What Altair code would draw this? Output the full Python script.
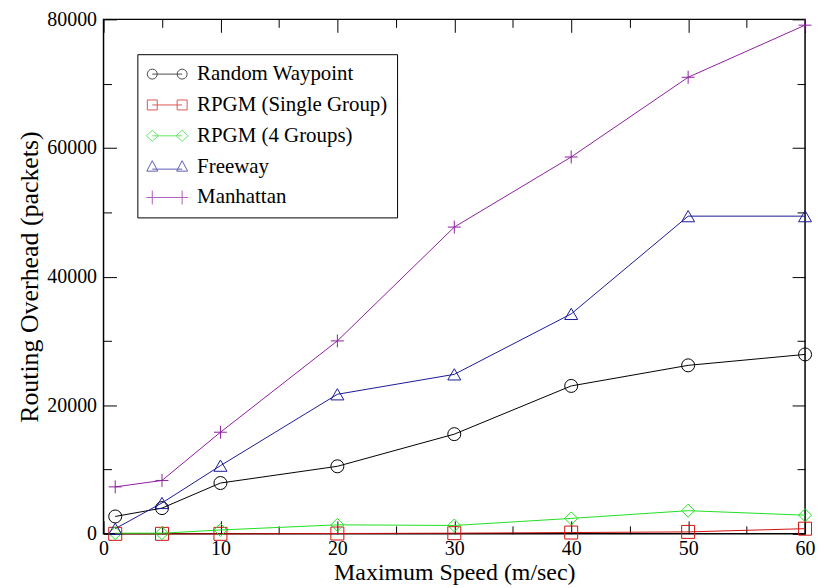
import altair as alt
import pandas as pd

# ---- data ----
speeds = [1, 5, 10, 20, 30, 40, 50, 60]
series_names = ["Random Waypoint", "RPGM (Single Group)", "RPGM (4 Groups)", "Freeway", "Manhattan"]
random_waypoint = [2700, 4000, 7900, 10500, 15500, 23000, 26200, 27900]
rpgm_single = [0, 0, 0, 50, 100, 200, 300, 800]
rpgm_four = [100, 100, 600, 1400, 1300, 2400, 3600, 2900]
freeway = [800, 4800, 10600, 21700, 24800, 34200, 49400, 49400]
manhattan = [7300, 8300, 15800, 30000, 47700, 58600, 71000, 79100]

x_ticks_major = [0, 10, 20, 30, 40, 50, 60]
x_ticks_minor = [5, 15, 25, 35, 45, 55]
y_ticks_major = [0, 20000, 40000, 60000, 80000]
y_ticks_minor = [10000, 30000, 50000, 70000]

colors = ["#000000", "#d01010", "#20e020", "#1a1a96", "#8e1ea0"]
marker_shapes = ["circle", "square", "diamond", "triangle-up", "M-1,0L1,0M0,-1L0,1"]
legend_shapes = [
    "M-1.5,0L1.5,0M-2,0A0.5,0.5,0,1,1,-1,0A0.5,0.5,0,1,1,-2,0M1,0A0.5,0.5,0,1,1,2,0A0.5,0.5,0,1,1,1,0",
    "M-1.5,0L1.5,0M-2,-0.5L-1,-0.5L-1,0.5L-2,0.5ZM1,-0.5L2,-0.5L2,0.5L1,0.5Z",
    "M-1.5,0L1.5,0M-2.1,0L-1.5,-0.55L-0.9,0L-1.5,0.55ZM0.9,0L1.5,-0.55L2.1,0L1.5,0.55Z",
    "M-1.5,0.25L1.5,0.25M-2.05,0.45L-1.5,-0.6L-0.95,0.45ZM0.95,0.45L1.5,-0.6L2.05,0.45Z",
    "M-2.1,0L2.1,0M-1.5,-0.7L-1.5,0.7M1.5,-0.7L1.5,0.7",
]

rows = []
for name, vals in zip(series_names, [random_waypoint, rpgm_single, rpgm_four, freeway, manhattan]):
    for s, v in zip(speeds, vals):
        rows.append({"speed": s, "overhead": v, "series": name})
df = pd.DataFrame(rows)

FONT = "Liberation Serif"
xscale = alt.Scale(domain=[0, 60], nice=False, zero=False)
yscale = alt.Scale(domain=[0, 80000], nice=False, zero=False)
color_scale = alt.Scale(domain=series_names, range=colors)

base = alt.Chart(df)

lines = base.mark_line(strokeWidth=1).encode(
    x=alt.X("speed:Q", scale=xscale, axis=alt.Axis(
        orient="bottom", values=x_ticks_major, format="d", ticks=False, domain=False, grid=False,
        labelFont=FONT, labelFontSize=20, labelColor="black", labelPadding=5,
        labelFlush=False, labelOverlap=False,
        title="Maximum Speed (m/sec)", titleFont=FONT, titleFontSize=24,
        titleFontWeight="normal", titleColor="black", titlePadding=2)),
    y=alt.Y("overhead:Q", scale=yscale, axis=alt.Axis(
        orient="left", values=y_ticks_major, format="d", ticks=False, domain=False, grid=False,
        labelFont=FONT, labelFontSize=20, labelColor="black", labelPadding=7,
        labelFlush=False, labelOverlap=False,
        title="Routing Overhead (packets)", titleFont=FONT, titleFontSize=26,
        titleFontWeight="normal", titleColor="black", titlePadding=4)),
    color=alt.Color("series:N", scale=color_scale, legend=None),
    detail="series:N",
)

points = base.mark_point(filled=False, strokeWidth=1, size=170, opacity=1).encode(
    x=alt.X("speed:Q", scale=xscale, axis=None),
    y=alt.Y("overhead:Q", scale=yscale, axis=None),
    color=alt.Color("series:N", scale=color_scale, legend=None),
    shape=alt.Shape("series:N", scale=alt.Scale(domain=series_names, range=marker_shapes), legend=None),
)

leg = alt.Legend(
    title=None, orient="none", legendX=34, legendY=35,
    symbolSize=400, symbolStrokeWidth=1, symbolOffset=10, symbolFillColor="transparent",
    labelOffset=19.5, padding=9.5, rowPadding=9,
    labelFont=FONT, labelFontSize=21, labelColor="black", labelLimit=500,
    labelExpr="datum.label + '\u2003'",
    fillColor="white", strokeColor="black",
)

legend_layer = base.transform_filter("false").mark_point(filled=False, strokeWidth=1).encode(
    x=alt.X("speed:Q", scale=xscale, axis=None),
    y=alt.Y("overhead:Q", scale=yscale, axis=None),
    color=alt.Color("series:N", scale=alt.Scale(domain=series_names, range=colors), legend=leg),
    shape=alt.Shape("series:N", scale=alt.Scale(domain=series_names, range=legend_shapes), legend=leg),
)


def tick_axis(orient, vals, size):
    return alt.Axis(orient=orient, values=vals, ticks=True, tickSize=size, offset=-size,
                    tickColor="black", tickWidth=1, labels=False, domain=False,
                    grid=False, title=None)


def tick_layer(xo, yo, xv, yv, size):
    return base.mark_point(opacity=0).encode(
        x=alt.X("speed:Q", scale=xscale, axis=tick_axis(xo, xv, size)),
        y=alt.Y("overhead:Q", scale=yscale, axis=tick_axis(yo, yv, size)),
    )


t1 = tick_layer("bottom", "left", x_ticks_major, y_ticks_major, 13)
t2 = tick_layer("top", "right", x_ticks_major, y_ticks_major, 13)
t3 = tick_layer("bottom", "left", x_ticks_minor, y_ticks_minor, 8)
t4 = tick_layer("top", "right", x_ticks_minor, y_ticks_minor, 8)

chart = (
    alt.layer(lines, points, legend_layer, t1, t2, t3, t4)
    .resolve_scale(color="independent", shape="independent")
    .resolve_axis(x="independent", y="independent")
    .properties(
        width=705, height=517,
        autosize=alt.AutoSizeParams(type="none"),
        padding={"left": 96, "top": 10, "right": 11, "bottom": 52},
        background="white",
    )
    .configure_view(stroke="black", strokeWidth=1.5)
    .configure_legend(labelFont=FONT, labelFontSize=21, labelColor="black", labelLimit=500)
)

chart.save("out.html", embed_options={"renderer": "svg", "actions": False})
